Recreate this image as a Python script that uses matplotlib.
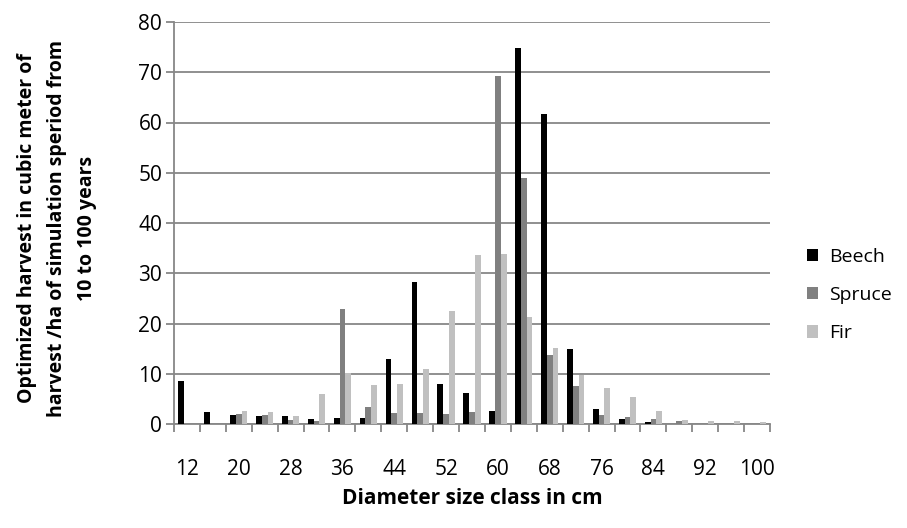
import numpy as np
import matplotlib
matplotlib.use("Agg")
import matplotlib.pyplot as plt
from matplotlib.patches import Patch

plt.rcParams['font.family'] = ['Open Sans', 'DejaVu Sans']

classes = list(range(12, 101, 4))
beech = [8.5, 2.4, 1.8, 1.5, 1.5, 0.9, 1.2, 1.1, 12.9, 28.3, 7.9, 6.2, 2.5,
         74.8, 61.7, 14.9, 2.9, 0.9, 0.3, 0.0, 0.0, 0.0, 0.0]
spruce = [0.0, 0.0, 2.0, 1.8, 0.7, 0.5, 22.8, 3.4, 2.1, 2.2, 2.0, 2.3, 69.2,
          49.0, 13.8, 7.6, 1.7, 1.3, 0.9, 0.5, 0.0, 0.0, 0.0]
fir = [0.0, 0.0, 2.5, 2.4, 1.5, 5.9, 10.1, 7.7, 7.9, 10.9, 22.4, 33.6, 33.8,
       21.2, 15.2, 9.7, 7.1, 5.4, 2.6, 0.7, 0.5, 0.5, 0.3]
series = [("Beech", beech, "#000000"),
          ("Spruce", spruce, "#808080"),
          ("Fir", fir, "#c0c0c0")]

W, H = 907, 528
fig = plt.figure(figsize=(W / 100, H / 100), dpi=100)
left, right, top, bottom = 174, 770, 22, 424
ax = fig.add_axes([left / W, 1 - bottom / H, (right - left) / W, (bottom - top) / H])

x = np.arange(len(classes))
w = 0.222
for i, (name, vals, col) in enumerate(series):
    ax.bar(x + (i - 1) * w, vals, width=w, color=col, label=name, zorder=3)

grid_col = "#878787"
ax.set_ylim(0, 80)
ax.set_yticks(range(0, 81, 10))
ax.set_xlim(-0.5, len(classes) - 0.5)
ax.yaxis.grid(True, color=grid_col, linewidth=1.3, zorder=0)
ax.set_axisbelow(True)

# tick marks on category boundaries, labels on every other class
ax.set_xticks(np.arange(-0.5, len(classes), 1.0))
ax.set_xticklabels([])
ax.set_xticks(x[::2], minor=True)
ax.set_xticklabels([str(c) for c in classes[::2]], minor=True)
ax.tick_params(axis='x', which='major', length=6, width=1.3, color=grid_col)
ax.tick_params(axis='x', which='minor', length=0, pad=25, labelsize=15)
ax.tick_params(axis='y', length=6, width=1.3, color=grid_col, labelsize=15, pad=2.5)

for side in ('top', 'right'):
    ax.spines[side].set_visible(False)
for side in ('left', 'bottom'):
    ax.spines[side].set_color(grid_col)
    ax.spines[side].set_linewidth(1.3)

fig.text(472 / W, 1 - 499 / H, "Diameter size class in cm", fontsize=15,
         fontweight='bold', ha='center', va='center')
fig.text(57 / W, 1 - 228 / H,
         "Optimized harvest in cubic meter of\n"
         "harvest /ha of simulation speriod from\n10 to 100 years",
         fontsize=14, fontweight='bold', rotation=90, ha='center', va='center',
         multialignment='center', linespacing=1.65)

handles = [Patch(facecolor=c, edgecolor='none') for _, _, c in series]
fig.legend(handles, [s[0] for s in series], loc='center left',
           bbox_to_anchor=(789 / W, 1 - 295 / H), frameon=False, fontsize=14,
           handlelength=0.6, handleheight=0.6, labelspacing=1.05,
           handletextpad=0.55)

fig.savefig("out.png", dpi=100)
